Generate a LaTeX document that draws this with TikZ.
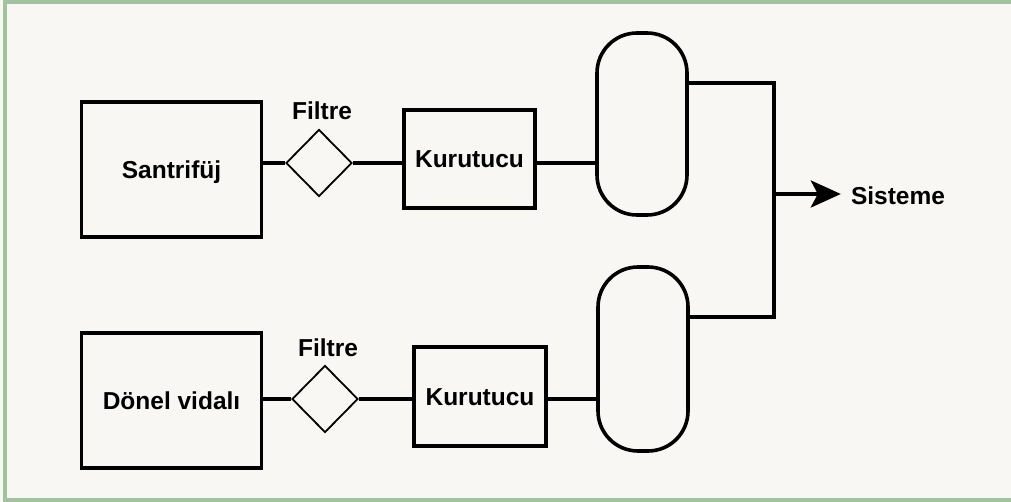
\documentclass[tikz,border=0pt]{standalone}
\usepackage{fontspec}
\setmainfont{Liberation Sans}
\usetikzlibrary{shapes.geometric,arrows.meta}
\definecolor{paper}{HTML}{F8F7F3}
\definecolor{frame}{HTML}{A3C3A0}
\tikzset{
  lbl/.style={font=\fontsize{24.5}{28}\selectfont\bfseries, text height=17.5pt, text depth=0pt, inner sep=0pt},
  unit/.style={lbl, draw, line width=3.4pt},
  filterbox/.style={draw, diamond, line width=1.8pt, inner sep=0pt, minimum width=66pt, minimum height=67pt},
  tank/.style={draw, line width=3.6pt, rounded corners=40pt, minimum width=90pt, minimum height=182pt, inner sep=0pt},
  pipe/.style={line width=3.3pt},
  feed/.style={line width=3.8pt, -{Stealth[length=30pt, width=27pt, inset=7pt]}}
}
\begin{document}
\begin{tikzpicture}[x=1pt, y=-1pt]
  % page and frame
  \fill[paper] (0,0) rectangle (1011,502);
  \useasboundingbox (0,0) rectangle (1011,502);
  \draw[frame, line width=4pt] (5,2.5) rectangle (1025,500);

  % upper line
  \node[unit, minimum width=180pt, minimum height=135pt] (s1) at (171.5,169.5) {Santrifüj};
  \node[filterbox] (f1) at (319,163) {};
  \node[lbl] (fl1) at (322,111) {Filtre};
  \node[unit, minimum width=131pt, minimum height=98pt] (k1) at (469.5,159) {Kurutucu};
  \node[tank, minimum height=182pt] (t1) at (642,124) {};

  % lower line
  \node[unit, minimum width=180pt, minimum height=135pt] (s2) at (171.5,400.5) {Dönel vidalı};
  \node[filterbox] (f2) at (325,399) {};
  \node[lbl] (fl2) at (328,348) {Filtre};
  \node[unit, minimum width=132pt, minimum height=99pt] (k2) at (480,396.5) {Kurutucu};
  \node[tank, minimum height=184pt] (t2) at (643,359) {};

  % collector and outlet
  \coordinate (bt) at (774,83);
  \coordinate (bb) at (774,317);
  \coordinate (j) at (774,194);
  \node[lbl, inner xsep=10pt] (sis) at (898,196) {Sisteme};

  % piping
  \draw[pipe] (f1.west) -- (f1.west -| s1.east);
  \draw[pipe] (f1.east) -- (f1.east -| k1.west);
  \draw[pipe] (f1.east -| k1.east) -- (f1.east -| t1.west);
  \draw[pipe] (f2.west) -- (f2.west -| s2.east);
  \draw[pipe] (f2.east) -- (f2.east -| k2.west);
  \draw[pipe] (f2.east -| k2.east) -- (f2.east -| t2.west);
  \draw[pipe] (t1.east |- bt) -- (bt) -- (bb) -- (t2.east |- bb);
  \draw[feed] (j) -- (j -| sis.west);
\end{tikzpicture}
\end{document}
